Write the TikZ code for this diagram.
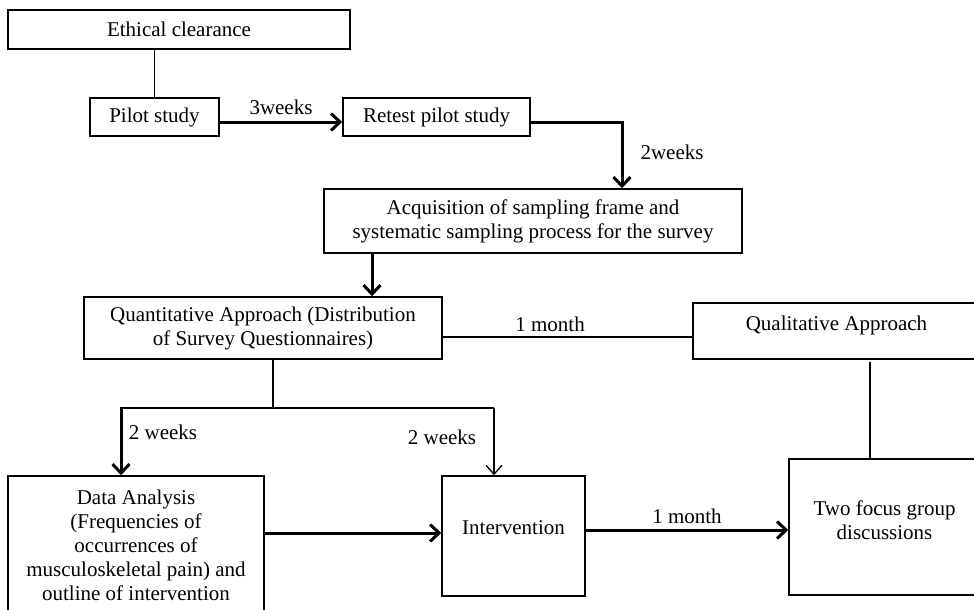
\documentclass[tikz,border=0pt]{standalone}
\usepackage{fontspec}
\setmainfont{Liberation Serif}
\usetikzlibrary{arrows.meta, positioning, calc}
\tikzset{
    stagebox/.style={rectangle, draw=black, line width=1.5pt, align=center,
                     inner sep=2pt, font=\fontsize{21}{24}\selectfont},
    gapline/.style={draw=black, line width=1.3pt},
    bigarrow/.style={-{Straight Barb[length=9pt, width=17pt, line width=3pt]}, line width=3pt},
    thinarrow/.style={-{Straight Barb[length=9pt, width=16pt]}, line width=1.3pt},
    timelabel/.style={font=\fontsize{21}{24}\selectfont, inner sep=0pt},
}

\begin{document}
\begin{tikzpicture}[x=1pt, y=-1pt]
            \useasboundingbox (0,0) rectangle (974,610);

            % Preparation
            \node[stagebox, minimum width=342, minimum height=39] (ethics) at (179, 29.5) {Ethical clearance};
            \node[stagebox, minimum width=129, minimum height=38] (pilot) at (154.5, 117) {Pilot study};
            \node[stagebox, minimum width=187, minimum height=38] (retest) at (436.5, 117) {Retest pilot study};
            \node[stagebox, minimum width=418, minimum height=64] (acq) at (533, 221)
                {Acquisition of sampling frame and\\systematic sampling process for the survey};

            % Approaches
            \node[stagebox, minimum width=358, minimum height=62] (quant) at (263, 328)
                {Quantitative Approach (Distribution\\of Survey Questionnaires)};
            \node[stagebox, minimum width=287, minimum height=56] (qual) at (836.5, 331)
                {Qualitative Approach\\[-8pt]\mbox{}};

            % Outcomes
            \node[stagebox, minimum width=256, minimum height=138] (data) at (136, 545)
                {Data Analysis\\(Frequencies of\\occurrences of\\musculoskeletal pain) and\\outline of intervention};
            \node[stagebox, minimum width=143, minimum height=120] (interv) at (513.5, 536) {Intervention\\[-8pt]\mbox{}};
            \node[stagebox, minimum width=191, minimum height=136] (focus) at (884.5, 527)
                {Two focus group\\discussions\\[-10pt]\mbox{}};

            % Branch points
            \coordinate (split) at (273, 408);
            \coordinate (brL) at (121, 408);
            \coordinate (brR) at (494, 408);
            \coordinate (drop) at (622, 122);
            \coordinate (qualdrop) at (870, 362);

            % Connectors
            \draw[gapline] (ethics.south -| pilot.north) -- (pilot.north);
            \draw[bigarrow] ([yshift=-5pt]pilot.east) -- ([yshift=-5pt]retest.west)
                node[timelabel, midway, above=6pt] (lab3w) {3weeks};
            \draw[bigarrow] ([yshift=-5pt]retest.east) -| (drop |- acq.north);
            \node[timelabel] (lab2w) at (672, 152) {2weeks};
            \draw[bigarrow] (acq.south -| 372, 0) -- (quant.north -| 372, 0);
            \draw[gapline] ([yshift=-9pt]quant.east) -- ([yshift=-9pt]quant.east -| qual.west)
                node[timelabel, pos=0.43, above=5pt] (lab1m) {1 month};
            \draw[gapline] (quant.south -| split) -- (split);
            \draw[gapline] (brL) -- (brR);
            \draw[bigarrow] ([yshift=1.5pt]brL) -- (brL |- data.north);
            \draw[thinarrow] (brR) -- (brR |- interv.north);
            \node[timelabel] (lab2wa) at (163, 432) {2 weeks};
            \node[timelabel] (lab2wb) at (442, 437) {2 weeks};
            \draw[bigarrow] ([yshift=12pt]data.east) -- ([yshift=12pt]data.east -| interv.west);
            \draw[bigarrow] ([yshift=6pt]interv.east) -- ([yshift=6pt]interv.east -| focus.west)
                node[timelabel, midway, above=5pt] (lab1mb) {1 month};
            \draw[gapline] (qualdrop) -- (qualdrop |- focus.north);
        \end{tikzpicture}
\end{document}
